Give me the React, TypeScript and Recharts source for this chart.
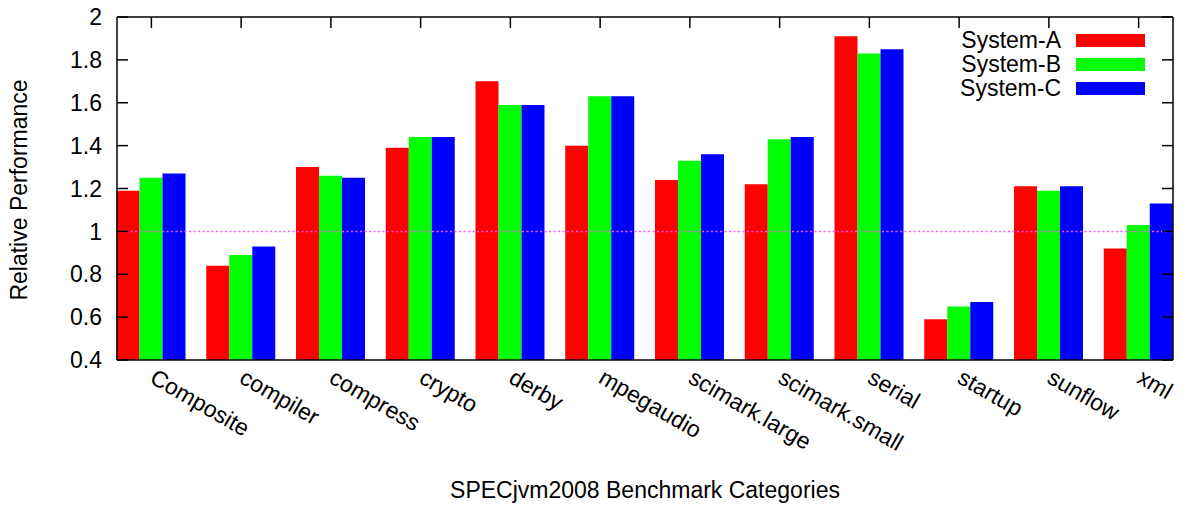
import { Bar, BarChart, Label, Legend, ReferenceLine, XAxis, YAxis } from 'recharts'

const categories = [
  'Composite',
  'compiler',
  'compress',
  'crypto',
  'derby',
  'mpegaudio',
  'scimark.large',
  'scimark.small',
  'serial',
  'startup',
  'sunflow',
  'xml',
]
const systemA = [1.19, 0.84, 1.3, 1.39, 1.7, 1.4, 1.24, 1.22, 1.91, 0.59, 1.21, 0.92]
const systemB = [1.25, 0.89, 1.26, 1.44, 1.59, 1.63, 1.33, 1.43, 1.83, 0.65, 1.19, 1.03]
const systemC = [1.27, 0.93, 1.25, 1.44, 1.59, 1.63, 1.36, 1.44, 1.85, 0.67, 1.21, 1.13]
const yTicks = [0.4, 0.6, 0.8, 1, 1.2, 1.4, 1.6, 1.8, 2]

const data = categories.map((name, i) => ({
  name,
  a: systemA[i],
  b: systemB[i],
  c: systemC[i],
}))

const font = '"Liberation Sans", Arial, Helvetica, sans-serif'
const fontSize = 23

function SlantTick({ x, y, payload }: any) {
  return (
    <text
      x={x - 3}
      y={y + 22}
      transform={`rotate(30, ${x - 3}, ${y + 22})`}
      textAnchor="start"
      fontFamily={font}
      fontSize={fontSize}
      fill="#000"
    >
      {payload.value}
    </text>
  )
}

function LegendBox({ payload }: any) {
  return (
    <div style={{ fontFamily: font, fontSize, color: '#000' }}>
      {(payload || []).map((p: any) => (
        <div key={p.value} style={{ display: 'flex', alignItems: 'center', justifyContent: 'flex-end', height: 24 }}>
          <span style={{ lineHeight: '24px' }}>{p.value}</span>
          <span style={{ display: 'inline-block', width: 69, height: 13, background: p.color, marginLeft: 15 }} />
        </div>
      ))}
    </div>
  )
}

export default function App() {
  return (
    <div style={{ position: 'absolute', left: 0, top: 0, background: '#fff' }}>
      <BarChart
        width={1182}
        height={506}
        data={data}
        margin={{ top: 0, right: 0, bottom: 0, left: 0 }}
        barSize={23}
        barGap={0}
      >
        <XAxis
          dataKey="name"
          xAxisId="bottom"
          height={146}
          padding={{ left: -10.5, right: -10.5 }}
          axisLine={{ stroke: '#000', strokeWidth: 1.5 }}
          tickLine={false}
          tickSize={0}
          tickMargin={0}
          interval={0}
          tick={<SlantTick />}
        >
          <Label
            content={() => (
              <text x={645} y={498} textAnchor="middle" fontFamily={font} fontSize={fontSize} fill="#000">
                SPECjvm2008 Benchmark Categories
              </text>
            )}
          />
        </XAxis>
        <XAxis
          dataKey="name"
          xAxisId="top"
          orientation="top"
          height={17}
          padding={{ left: -10.5, right: -10.5 }}
          axisLine={{ stroke: '#000', strokeWidth: 1.5 }}
          tickLine={{ stroke: '#000', strokeWidth: 1.5 }}
          tickSize={-11}
          interval={0}
          tickFormatter={() => ''}
        />
        <YAxis
          yAxisId="left"
          width={117}
          domain={[0.4, 2]}
          ticks={yTicks}
          allowDataOverflow
          axisLine={{ stroke: '#000', strokeWidth: 1.5 }}
          tickLine={{ stroke: '#000', strokeWidth: 1.5 }}
          tickSize={-11}
          tickMargin={26}
          tick={{ fontFamily: font, fontSize, fill: '#000' }}
          tickFormatter={(v: number) => String(v)}
        >
          <Label
            content={() => (
              <text
                x={27}
                y={190}
                transform="rotate(-90, 27, 190)"
                textAnchor="middle"
                fontFamily={font}
                fontSize={fontSize}
                fill="#000"
              >
                Relative Performance
              </text>
            )}
          />
        </YAxis>
        <YAxis
          yAxisId="right"
          orientation="right"
          width={9}
          domain={[0.4, 2]}
          ticks={yTicks}
          allowDataOverflow
          axisLine={{ stroke: '#000', strokeWidth: 1.5 }}
          tickLine={{ stroke: '#000', strokeWidth: 1.5 }}
          tickSize={-11}
          tickFormatter={() => ''}
        />
        <Bar dataKey="a" name="System-A" xAxisId="bottom" yAxisId="left" fill="#ff0000" isAnimationActive={false} />
        <Bar dataKey="b" name="System-B" xAxisId="bottom" yAxisId="left" fill="#00ff00" isAnimationActive={false} />
        <Bar dataKey="c" name="System-C" xAxisId="bottom" yAxisId="left" fill="#0000ff" isAnimationActive={false} />
        {/* dotted 1.0 baseline, drawn over the bars */}
        <ReferenceLine
          y={1}
          xAxisId="bottom"
          yAxisId="left"
          stroke="#ff55ff"
          strokeWidth={1.5}
          strokeDasharray="2 2.5"
          ifOverflow="extendDomain"
        />
        <Legend
          layout="horizontal"
          verticalAlign="middle"
          align="center"
          content={<LegendBox />}
          wrapperStyle={{ position: 'absolute', top: 28, left: 900, width: 245, bottom: 'auto' }}
        />
      </BarChart>
    </div>
  )
}
